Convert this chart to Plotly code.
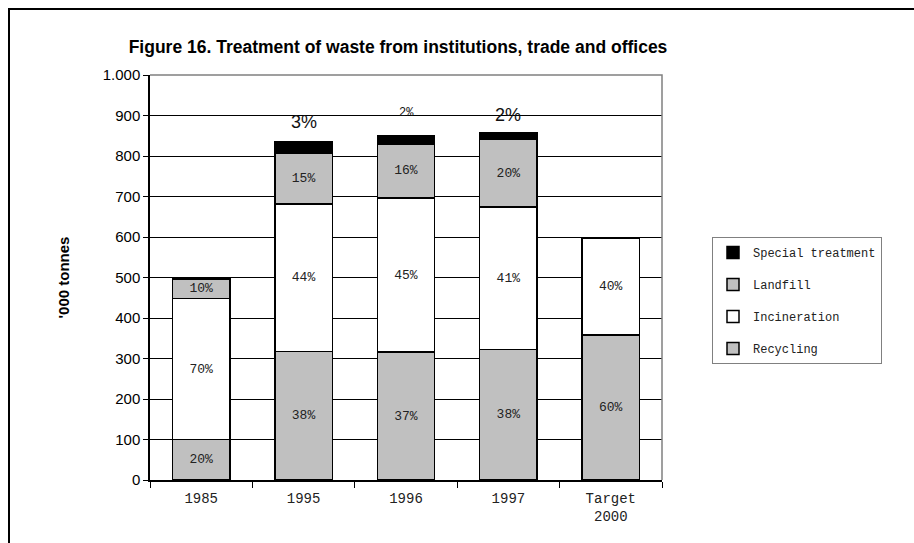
import plotly.graph_objects as go

# Waste from institutions, trade and offices ('000 tonnes)
categories = ["1985", "1995", "1996", "1997", "Target<br>2000"]
recycling = [100, 317, 316, 322, 358]
incineration = [348, 364, 380, 352, 240]
landfill = [48, 125, 134, 168, 0]
special_treatment = [0, 28, 20, 15, 0]

totals = [r + i + l + s for r, i, l, s in zip(recycling, incineration, landfill, special_treatment)]


def pct_labels(values):
    return [f"{round(v / t * 100)}%" if v > 0 else "" for v, t in zip(values, totals)]


MONO = "Courier New, Liberation Mono, monospace"
SANS = "Arial, Liberation Sans, sans-serif"
GREY = "#C0C0C0"

fig = go.Figure()

series = [
    ("Recycling", recycling, GREY, 4),
    ("Incineration", incineration, "#FFFFFF", 3),
    ("Landfill", landfill, GREY, 2),
]
for name, vals, color, rank in series:
    fig.add_trace(go.Bar(
        name=name, x=categories, y=vals, legendgroup=name, legendrank=rank,
        marker=dict(color=color, line=dict(color="#000000", width=1.5)),
        text=pct_labels(vals), textposition="inside", insidetextanchor="middle",
        textangle=0, constraintext="none",
        textfont=dict(family=MONO, size=13, color="#222222"),
        width=0.56,
    ))

fig.add_trace(go.Bar(
    name="Special treatment", x=categories, y=special_treatment,
    legendgroup="Special treatment", legendrank=1,
    marker=dict(color="#000000", line=dict(color="#000000", width=1.5)),
    width=0.56,
))

# percentage of special treatment written above each bar
special_pct = pct_labels(special_treatment)
label_font = [None, (SANS, 18), (MONO, 12), (SANS, 18), None]
label_lift = [0, 20, 23, 18, 0]
for idx, (tot, txt, fnt, lift) in enumerate(zip(totals, special_pct, label_font, label_lift)):
    if txt and fnt:
        fig.add_annotation(
            x=idx, y=tot, text=txt, showarrow=False, yanchor="middle", yshift=lift,
            font=dict(family=fnt[0], size=fnt[1], color="#111111"),
        )

# plot-area frame (top and right edges)
fig.add_shape(type="path", xref="paper", yref="paper",
              path="M 0,1 L 1,1 L 1,0", line=dict(color="#808080", width=1.5),
              layer="above")
# outer chart frame
fig.add_shape(type="rect", xref="paper", yref="paper",
              x0=(9 - 150) / 512, x1=1.6, y0=-0.3, y1=(480 - 9) / 405,
              line=dict(color="#000000", width=2), layer="below")

fig.update_layout(
    width=914, height=543,
    margin=dict(l=150, r=252, t=75, b=63, autoexpand=False),
    barmode="stack",
    bargap=0.44,
    paper_bgcolor="#FFFFFF", plot_bgcolor="#FFFFFF",
    separators=",.",
    showlegend=True,
    title=dict(
        text="<b>Figure 16. Treatment of waste from institutions, trade and offices</b>",
        x=398 / 914, xanchor="center", xref="container",
        y=1 - 47 / 543, yanchor="middle", yref="container",
        font=dict(family=SANS, size=17.5, color="#000000"),
    ),
    legend=dict(
        x=(712 - 150) / 512, y=(480 - 237) / 405, xanchor="left", yanchor="top",
        bordercolor="#808080", borderwidth=1, bgcolor="#FFFFFF",
        font=dict(family=MONO, size=12, color="#222222"),
        traceorder="grouped", tracegroupgap=13,
    ),
    yaxis=dict(
        range=[0, 1000], tickvals=list(range(0, 1001, 100)), tickformat=",d",
        showgrid=True, gridcolor="#000000", gridwidth=1,
        showline=True, linecolor="#000000", linewidth=1.5,
        ticks="outside", ticklen=5, tickcolor="#000000",
        tickfont=dict(family=SANS, size=15, color="#000000"),
        zeroline=False,
        title=dict(text="<b>'000 tonnes</b>", standoff=29,
                   font=dict(family=SANS, size=15, color="#000000")),
    ),
    xaxis=dict(
        type="category", tickson="boundaries", range=[-0.5, 4.5],
        showline=True, linecolor="#000000", linewidth=1.5,
        ticks="outside", ticklen=6, tickcolor="#000000",
        ticklabelstandoff=4,
        tickfont=dict(family=MONO, size=14, color="#222222"),
        showgrid=False,
    ),
)

fig.write_html("out.html")
